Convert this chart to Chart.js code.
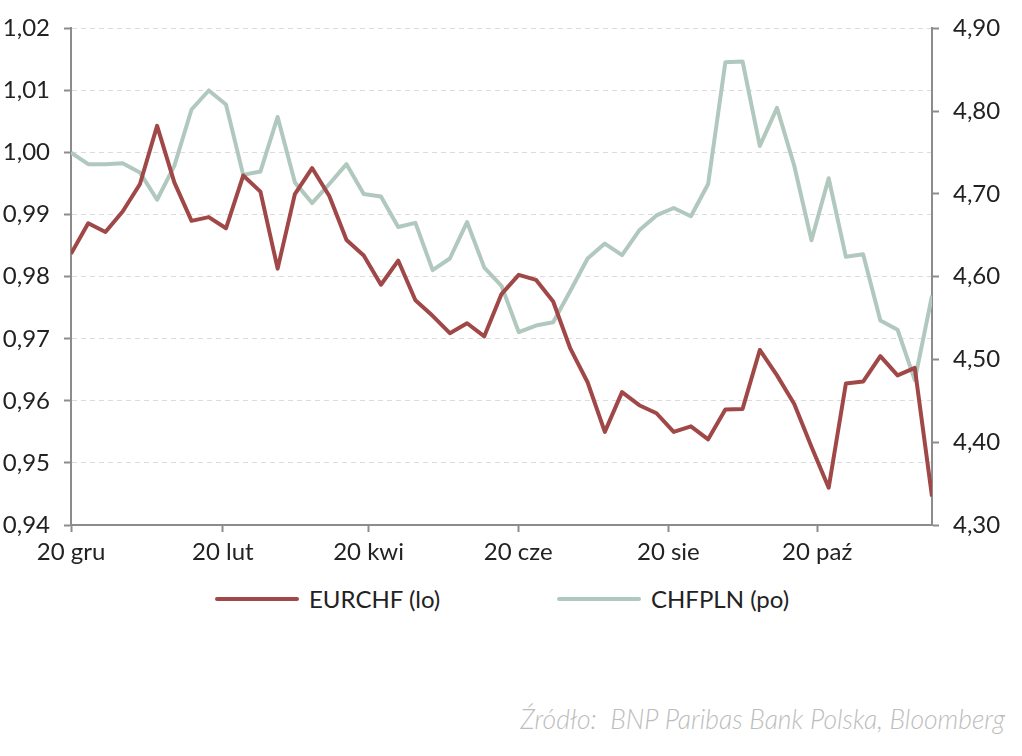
<!DOCTYPE html>
<html lang="pl">
<head>
<meta charset="utf-8">
<script src="https://cdn.jsdelivr.net/npm/chart.js@4/dist/chart.umd.min.js"></script>
<style>
    body { margin: 0; background: #fff; font-family: Lato, sans-serif; }
    #wrap { position: relative; width: 1022px; height: 756px; }
    #chart-box { position: absolute; left: 0; top: 0; width: 1022px; height: 580px; }
    #legend { position: absolute; left: 0; top: 584px; width: 1022px; height: 32px; }
    .legend-item { position: absolute; top: 0; display: flex; align-items: center; font-size: 24px; color: #222; }
    .legend-line { display: inline-block; width: 84px; height: 4px; border-radius: 2px; margin-right: 10px; }
    #source { position: absolute; right: 17px; top: 703px; font-size: 26.5px; font-style: italic; font-weight: 300; color: #bdbdbd; white-space: pre; }
</style>
</head>
<body>
<div id="wrap">
    <div id="chart-box"><canvas id="fxChart"></canvas></div>
    <div id="legend"></div>
    <div id="source">Źródło:  BNP Paribas Bank Polska, Bloomberg</div>
</div>
<script>
// weekly observations, 20 gru .. early gru
const eurchf = [
    0.9837, 0.9886, 0.9872, 0.9905, 0.9949, 1.0043, 0.9952, 0.9890, 0.9896, 0.9878,
    0.9963, 0.9937, 0.9813, 0.9933, 0.9975, 0.9930, 0.9859, 0.9834, 0.9787, 0.9826,
    0.9762, 0.9737, 0.9709, 0.9725, 0.9704, 0.9772, 0.9803, 0.9795, 0.9760, 0.9684,
    0.9630, 0.9550, 0.9614, 0.9593, 0.9580, 0.9550, 0.9559, 0.9538, 0.9586, 0.9587,
    0.9682, 0.9641, 0.9595, 0.9526, 0.9460, 0.9628, 0.9631, 0.9672, 0.9641, 0.9653,
    0.9446
];
const chfpln = [
    4.750, 4.736, 4.736, 4.737, 4.726, 4.693, 4.734, 4.802, 4.825, 4.808,
    4.723, 4.727, 4.793, 4.714, 4.689, 4.712, 4.736, 4.700, 4.697, 4.660,
    4.665, 4.608, 4.622, 4.666, 4.611, 4.589, 4.533, 4.541, 4.545, 4.583,
    4.622, 4.640, 4.626, 4.656, 4.674, 4.683, 4.673, 4.712, 4.859, 4.860,
    4.758, 4.804, 4.734, 4.644, 4.719, 4.624, 4.627, 4.547, 4.536, 4.475,
    4.577
];
const seriesNames = ['EURCHF (lo)', 'CHFPLN (po)'];
const seriesColors = ['#a04848', '#b1c8be'];

// month ticks, in week units from the first observation
const tickWeeks = [0, 8.82, 17.28, 25.97, 34.69, 43.33];
const tickLabels = ['20 gru', '20 lut', '20 kwi', '20 cze', '20 sie', '20 paź'];

const axisGray = '#8c8c8c';
const textColor = '#222';

function toPoints(values) {
    return values.map((v, i) => ({ x: i, y: v }));
}

function fmt(v) {
    return v.toFixed(2).replace('.', ',');
}

function renderLegend() {
    const box = document.getElementById('legend');
    const lefts = [215, 557];
    box.innerHTML = seriesNames.map((name, i) => `
        <div class="legend-item" style="left:${lefts[i]}px">
            <span class="legend-line" style="background:${seriesColors[i]}"></span>${name}
        </div>
    `).join('');
}

function renderChart() {
    const ctx = document.getElementById('fxChart').getContext('2d');
    new Chart(ctx, {
        type: 'line',
        data: {
            datasets: [
                {
                    label: seriesNames[0],
                    data: toPoints(eurchf),
                    borderColor: seriesColors[0],
                    backgroundColor: seriesColors[0],
                    borderWidth: 4,
                    pointRadius: 0,
                    tension: 0,
                    borderJoinStyle: 'round',
                    yAxisID: 'yLeft'
                },
                {
                    label: seriesNames[1],
                    data: toPoints(chfpln),
                    borderColor: seriesColors[1],
                    backgroundColor: seriesColors[1],
                    borderWidth: 4,
                    pointRadius: 0,
                    tension: 0,
                    borderJoinStyle: 'round',
                    yAxisID: 'yRight'
                }
            ]
        },
        options: {
            responsive: true,
            maintainAspectRatio: false,
            animation: false,
            layout: { padding: { top: 27, left: 0, right: 0, bottom: 0 } },
            plugins: {
                legend: { display: false },
                tooltip: { enabled: false }
            },
            scales: {
                x: {
                    type: 'linear',
                    min: 0,
                    max: eurchf.length - 1,
                    afterBuildTicks: axis => {
                        axis.ticks = tickWeeks.map(v => ({ value: v }));
                    },
                    afterFit: axis => { axis.height = 55; },
                    ticks: {
                        autoSkip: false,
                        maxRotation: 0,
                        padding: 6,
                        color: textColor,
                        font: { family: 'Lato', size: 24 },
                        callback: (value, index) => tickLabels[index]
                    },
                    grid: {
                        drawOnChartArea: false,
                        drawTicks: true,
                        tickLength: 7,
                        tickColor: axisGray,
                        tickWidth: 2
                    },
                    border: { color: axisGray, width: 2 }
                },
                yLeft: {
                    position: 'left',
                    min: 0.94,
                    max: 1.02,
                    afterFit: axis => { axis.width = 71; },
                    ticks: {
                        stepSize: 0.01,
                        padding: 14,
                        color: textColor,
                        font: { family: 'Lato', size: 24 },
                        callback: v => fmt(v)
                    },
                    grid: {
                        color: '#dcdcdc',
                        lineWidth: 1,
                        tickLength: 7,
                        tickColor: axisGray,
                        tickWidth: 2
                    },
                    border: { color: axisGray, width: 2, dash: [5, 4] }
                },
                yRight: {
                    position: 'right',
                    min: 4.3,
                    max: 4.9,
                    afterFit: axis => { axis.width = 90; },
                    ticks: {
                        stepSize: 0.1,
                        padding: 14,
                        color: textColor,
                        font: { family: 'Lato', size: 24 },
                        callback: v => fmt(v)
                    },
                    grid: {
                        drawOnChartArea: false,
                        tickLength: 7,
                        tickColor: axisGray,
                        tickWidth: 2
                    },
                    border: { color: axisGray, width: 2 }
                }
            }
        }
    });
}

document.addEventListener('DOMContentLoaded', () => {
    renderLegend();
    renderChart();
});
</script>
</body>
</html>
